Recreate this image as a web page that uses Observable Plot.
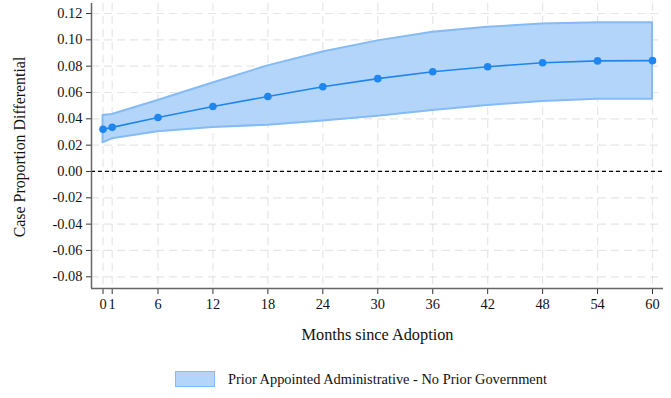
<!DOCTYPE html>
<html>
<head>
<meta charset="utf-8">
<script src="https://cdn.jsdelivr.net/npm/d3@7"></script>
<script src="https://cdn.jsdelivr.net/npm/@observablehq/plot@0.6"></script>
<style>
  html, body { margin: 0; padding: 0; background: #fff; }
  #chart { width: 671px; }
  .legend {
    display: flex; align-items: center; height: 38px;
    font-family: "Liberation Serif", "Times New Roman", serif; font-size: 14.4px; color: #111;
    padding-left: 175px; box-sizing: border-box;
  }
  .legend .swatch {
    width: 38px; height: 14px; background: #b4d5fa; border: 1.5px solid #84baf5;
    margin-right: 13px;
  }
</style>
</head>
<body>
<div id="chart"></div>
<script>
// Months since adoption at which the effect is estimated
const months = [0, 1, 6, 12, 18, 24, 30, 36, 42, 48, 54, 60];
// Point estimate of the case proportion differential
const estimate = [0.0320, 0.0335, 0.0410, 0.0494, 0.0570, 0.0644, 0.0705, 0.0758, 0.0796, 0.0826, 0.0840, 0.0842];
// Confidence band bounds
const upper = [0.0425, 0.0433, 0.0539, 0.0672, 0.0802, 0.0908, 0.0992, 0.1058, 0.1096, 0.1120, 0.1129, 0.1129];
const lower = [0.0218, 0.0248, 0.0302, 0.0334, 0.0352, 0.0383, 0.0419, 0.0463, 0.0501, 0.0532, 0.0548, 0.0549];

const xTicks = [0, 1, 6, 12, 18, 24, 30, 36, 42, 48, 54, 60];
const yTicks = [-0.08, -0.06, -0.04, -0.02, 0, 0.02, 0.04, 0.06, 0.08, 0.10, 0.12];
const xTitle = "Months since Adoption";
const yTitle = "Case Proportion Differential";
const seriesLabel = "Prior Appointed Administrative - No Prior Government";

const rows = months.map((m, i) => ({month: m, est: estimate[i], lo: lower[i], hi: upper[i]}));

const fmt = d => (Math.abs(d) < 1e-9 ? 0 : d).toFixed(2);
const tickFont = 14.4;

const plot = Plot.plot({
  width: 671,
  height: 360,
  marginLeft: 91,
  marginRight: 8,
  marginTop: 3,
  marginBottom: 72,
  style: {fontFamily: "'Liberation Serif', 'Times New Roman', serif", fontSize: "14.4px", color: "#111", background: "#fff"},
  x: {domain: [-1.26, 61.2]},
  y: {domain: [-0.0889, 0.1276]},
  marks: [
    // dashed background grid
    Plot.gridX(xTicks, {stroke: "#d6d6d6", strokeOpacity: 0.6, strokeDasharray: "8,5", strokeWidth: 1.2}),
    Plot.gridY(yTicks, {stroke: "#d6d6d6", strokeOpacity: 0.6, strokeDasharray: "8,5", strokeWidth: 1.2}),
    // confidence band
    Plot.areaY(rows, {x: "month", y1: "lo", y2: "hi", fill: "#b4d5fa", fillOpacity: 1, stroke: "#84baf5", strokeWidth: 2}),
    // zero reference
    Plot.ruleY([0], {stroke: "#000", strokeDasharray: "4,3", strokeWidth: 1.3}),
    Plot.line(rows, {x: "month", y: "est", stroke: "#1e86ee", strokeWidth: 1.6}),
    Plot.dot(rows, {x: "month", y: "est", r: 3.8, fill: "#1e86ee", stroke: "none"}),
    // axes
    Plot.axisY(yTicks, {tickFormat: fmt, tickSize: 5, tickPadding: 4, stroke: "#333", fontSize: tickFont, label: null}),
    Plot.axisX(xTicks, {tickFormat: d => String(d), tickSize: 6, tickPadding: 4, stroke: "#333", fontSize: tickFont, label: null}),
    Plot.ruleX([-1.26], {stroke: "#666", strokeWidth: 1.5}),
    Plot.ruleY([-0.0889], {stroke: "#666", strokeWidth: 1.5}),
    // axis titles
    Plot.text([yTitle], {text: d => d, frameAnchor: "left", textAnchor: "middle", rotate: -90, dx: -72, dy: 1, fontSize: 15.9, fill: "#111"}),
    Plot.text([xTitle], {text: d => d, frameAnchor: "bottom", lineAnchor: "middle", dy: 46, fontSize: 16.3, fill: "#111"})
  ]
});

document.getElementById("chart").appendChild(plot);

const legend = document.createElement("div");
legend.className = "legend";
legend.innerHTML = `<span class="swatch"></span><span></span>`;
legend.lastChild.textContent = seriesLabel;
document.getElementById("chart").appendChild(legend);
</script>
</body>
</html>
